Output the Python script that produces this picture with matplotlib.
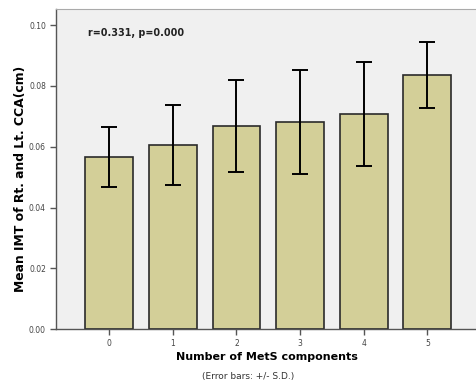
import matplotlib
matplotlib.use("Agg")
import matplotlib.pyplot as plt

categories = ["0", "1", "2", "3", "4", "5"]
means = [0.0566, 0.0605, 0.0669, 0.0680, 0.0707, 0.0836]
sds = [0.0099, 0.0131, 0.0151, 0.0171, 0.0171, 0.0107]
yticks = [0.00, 0.02, 0.04, 0.06, 0.08, 0.10]
ytick_labels = ["0.00", "0.02", "0.04", "0.06", "0.08", "0.10"]

fig = plt.figure(figsize=(4.77, 3.82), dpi=100)
ax = fig.add_axes([0.1168, 0.138, 0.8832, 0.8384])
ax.set_facecolor("#f0f0f0")

x = list(range(len(categories)))
ax.bar(x, means, width=0.75, color="#d3cf98", edgecolor="#2a2a2a", linewidth=1.2, zorder=2)
ax.errorbar(x, means, yerr=sds, fmt="none", ecolor="black", elinewidth=1.4,
            capsize=5.8, capthick=1.4, zorder=3)

ax.set_xlim(-0.84, 5.78)
ax.set_ylim(0, 0.1053)
ax.set_xticks(x)
ax.set_xticklabels(categories, fontsize=5.5, color="#444444")
ax.set_yticks(yticks)
ax.set_yticklabels(ytick_labels, fontsize=5.5, color="#444444")
ax.tick_params(axis="both", direction="out", length=4, width=1, color="#555555", pad=3)

for s in ["left", "bottom"]:
    ax.spines[s].set_color("#555555")
    ax.spines[s].set_linewidth(1.0)
ax.spines["top"].set_color("#aaaaaa")
ax.spines["right"].set_visible(False)

ax.text(0.077, 0.926, "r=0.331, p=0.000", transform=ax.transAxes, fontsize=6.9,
        fontweight="bold", color="#222222", ha="left", va="center")

ax.set_ylabel("Mean IMT of Rt. and Lt. CCA(cm)", fontsize=8.9, fontweight="bold")
ax.yaxis.set_label_coords(-0.068, 0.47)
fig.text(266.5 / 477, 1 - 357 / 382, "Number of MetS components", fontsize=8,
         fontweight="bold", ha="center", va="center")
fig.text(248 / 477, 1 - 376 / 382, "(Error bars: +/- S.D.)", fontsize=6.5,
         color="#333333", ha="center", va="center")

fig.savefig("out.png", dpi=100)
